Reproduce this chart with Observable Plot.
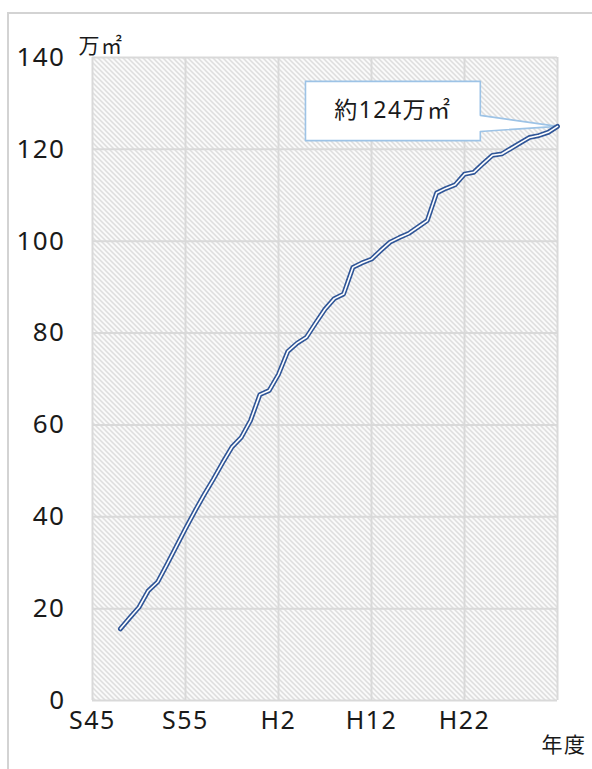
<!DOCTYPE html>
<html>
<head>
<meta charset="utf-8">
<script src="https://cdn.jsdelivr.net/npm/d3@7"></script>
<script src="https://cdn.jsdelivr.net/npm/@observablehq/plot@0.6"></script>
<style>
  html, body { margin: 0; padding: 0; background: #fff; overflow: hidden; }
  #wrap { position: relative; width: 592px; height: 769px; }
  #border { position: absolute; left: 7px; top: 12px; width: 700px; height: 900px; border: 2px solid #d3d3d3; box-sizing: border-box; }
  #chart { position: absolute; left: 0; top: 0; }
  #chart text { letter-spacing: 1.5px; }
</style>
</head>
<body>
<div id="wrap"><div id="border"></div><div id="chart"></div></div>
<script>
// ---- data ----
const years = [1973,1974,1975,1976,1977,1978,1979,1980,1981,1982,1983,1984,1985,1986,1987,1988,1989,1990,
  1991,1992,1993,1994,1995,1996,1997,1998,1999,2000,2001,2002,2003,2004,2005,2006,2007,2008,2009,2010,
  2011,2012,2013,2014,2015,2016,2017,2018,2019,2020];
const areaValues = [15.6,18.0,20.3,23.9,25.8,29.6,33.5,37.4,41.2,44.8,48.2,51.8,55.2,57.3,61.0,66.6,67.5,71.0,
  76.0,77.8,79.1,82.2,85.2,87.5,88.5,94.3,95.3,96.1,98.0,99.8,100.8,101.7,103.1,104.5,110.5,111.5,112.3,114.6,
  115.0,116.9,118.7,119.0,120.2,121.4,122.6,123.0,123.7,125.0];
const xTickYears = [1970,1980,1990,2000,2010];
const xTickLabels = ["S45","S55","H2","H12","H22"];
const xGridYears = [1970,1980,1990,2000,2010,2020];
const yTicks = [0,20,40,60,80,100,120,140];
const unitLabel = "万㎡";
const xAxisTitle = "年度";
const calloutText = "約124万㎡";

const data = years.map((y, i) => ({year: y, value: areaValues[i]}));

// callout shape relative to the last point
const last = data[data.length - 1];
const bx0 = last.year - 27.1, bx1 = last.year - 8.3;
const by0 = last.value - 3.1, by1 = last.value + 9.8;
const callout = [
  {x: bx0, y: by1}, {x: bx1, y: by1}, {x: bx1, y: last.value + 2.4},
  {x: last.year, y: last.value}, {x: bx1, y: last.value - 1.1}, {x: bx1, y: by0},
  {x: bx0, y: by0}, {x: bx0, y: by1}
];

const FONT = "'Noto Sans', 'Noto Sans CJK JP', sans-serif";
const gridColor = "#d9d9d9";
const lineBlue = "#2f5597";

const chart = Plot.plot({
  width: 592,
  height: 769,
  marginLeft: 92,
  marginRight: 35,
  marginTop: 57,
  marginBottom: 69,
  style: {fontFamily: FONT, background: "transparent", color: "#1a1a1a"},
  x: {domain: [1970, 2020]},
  y: {domain: [0, 140]},
  marks: [
    Plot.frame({fill: "url(#hatch)", stroke: "none"}),
    Plot.gridX(xGridYears, {stroke: gridColor, strokeOpacity: 1, strokeWidth: 2}),
    Plot.gridY(yTicks, {stroke: gridColor, strokeOpacity: 1, strokeWidth: 2}),
    Plot.axisY(yTicks, {tickSize: 0, tickPadding: 27, fontSize: 26, label: null, fill: "#1a1a1a"}),
    Plot.axisX(xTickYears, {tickSize: 0, tickPadding: 11, fontSize: 25, label: null, fill: "#1a1a1a",
      tickFormat: (d) => xTickLabels[xTickYears.indexOf(d)]}),
    Plot.text([unitLabel], {frameAnchor: "top-left", text: (d) => d, textAnchor: "start", lineAnchor: "bottom",
      dx: -14, dy: -5, fontSize: 21, fill: "#1a1a1a"}),
    Plot.text([xAxisTitle], {frameAnchor: "bottom-right", text: (d) => d, textAnchor: "start", lineAnchor: "bottom",
      dx: -16, dy: 51, fontSize: 21, fill: "#1a1a1a"}),
    Plot.line(callout, {x: "x", y: "y", fill: "white", stroke: "#9dc3e6", strokeWidth: 1.6, curve: "linear"}),
    Plot.text([calloutText], {x: (bx0 + bx1) / 2, y: (by0 + by1) / 2, text: (d) => d, fontSize: 23, fill: "#1a1a1a"}),
    Plot.line(data, {x: "year", y: "value", stroke: lineBlue, strokeWidth: 4.8, strokeLinejoin: "round", strokeLinecap: "round"}),
    Plot.line(data, {x: "year", y: "value", stroke: "white", strokeWidth: 1.6, strokeLinejoin: "round", strokeLinecap: "round"})
  ]
});

// hatch pattern for the plot background
const ns = "http://www.w3.org/2000/svg";
const defs = document.createElementNS(ns, "defs");
const pat = document.createElementNS(ns, "pattern");
pat.setAttribute("id", "hatch");
pat.setAttribute("patternUnits", "userSpaceOnUse");
pat.setAttribute("width", "5");
pat.setAttribute("height", "5");
const bg = document.createElementNS(ns, "rect");
bg.setAttribute("width", "5"); bg.setAttribute("height", "5"); bg.setAttribute("fill", "#ffffff");
const p = document.createElementNS(ns, "path");
p.setAttribute("d", "M-1,-1L6,6M-1,4L1,6M4,-1L6,1");
p.setAttribute("stroke", "#d2d2d2");
p.setAttribute("stroke-width", "1.3");
pat.appendChild(bg); pat.appendChild(p);
defs.appendChild(pat);
chart.insertBefore(defs, chart.firstChild);

document.getElementById("chart").appendChild(chart);
</script>
</body>
</html>
